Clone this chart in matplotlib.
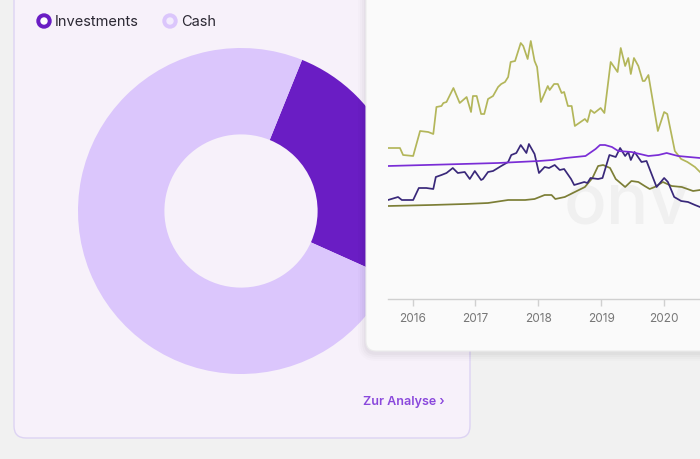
import matplotlib
matplotlib.use("Agg")
import matplotlib.pyplot as plt
from matplotlib.patches import FancyBboxPatch, Circle

plt.rcParams['font.family'] = ['Inter', 'DejaVu Sans']

# ---------------- data ----------------
pie_labels = ["Investments", "Cash"]
pie_values = [25.6, 74.4]

year_ticks = [2016, 2017, 2018, 2019, 2020]

yellow_x = [2015.61, 2015.80, 2015.85, 2016.01, 2016.12, 2016.25, 2016.33, 2016.38, 2016.46, 2016.49,
            2016.54, 2016.65, 2016.75, 2016.86, 2016.93, 2016.96, 2017.02, 2017.09, 2017.14, 2017.20,
            2017.28, 2017.36, 2017.41, 2017.47, 2017.52, 2017.56, 2017.63, 2017.72, 2017.76, 2017.83,
            2017.88, 2017.94, 2017.98, 2018.04, 2018.15, 2018.18, 2018.25, 2018.31, 2018.37, 2018.41,
            2018.47, 2018.53, 2018.58, 2018.74, 2018.78, 2018.83, 2018.89, 2018.99, 2019.05, 2019.15,
            2019.26, 2019.31, 2019.38, 2019.43, 2019.47, 2019.52, 2019.59, 2019.66, 2019.69, 2019.75,
            2019.90, 2020.00, 2020.05, 2020.17, 2020.27, 2020.37, 2020.49, 2020.57]
yellow_y = [151, 151, 144, 143, 168, 167, 165, 192, 193, 196,
            197, 211, 196, 202, 187, 203, 203, 185, 185, 200,
            203, 212, 215, 217, 222, 237, 238, 256, 253, 240,
            258, 238, 232, 197, 213, 209, 215, 215, 206, 207,
            193, 193, 173, 180, 177, 189, 186, 191, 186, 237,
            227, 251, 233, 241, 225, 241, 233, 218, 218, 224,
            168, 187, 185, 148, 140, 137, 132, 127]

purple_x = [2015.61, 2016.50, 2017.36, 2018.01, 2018.22, 2018.43, 2018.75, 2018.91, 2018.98, 2019.06,
            2019.17, 2019.27, 2019.48, 2019.75, 2019.91, 2020.04, 2020.22, 2020.57]
purple_y = [133, 134.5, 136, 138, 139, 141, 143, 150, 154, 154,
            152, 148, 147, 143, 144, 146, 143, 141]

navy_x = [2015.61, 2015.77, 2015.83, 2016.01, 2016.10, 2016.22, 2016.33, 2016.37, 2016.46, 2016.54,
          2016.64, 2016.72, 2016.83, 2016.91, 2016.99, 2017.09, 2017.12, 2017.20, 2017.28, 2017.41,
          2017.52, 2017.57, 2017.65, 2017.72, 2017.81, 2017.85, 2017.94, 2018.01, 2018.10, 2018.17,
          2018.26, 2018.34, 2018.41, 2018.52, 2018.57, 2018.73, 2018.78, 2018.83, 2018.95, 2019.02,
          2019.13, 2019.23, 2019.30, 2019.38, 2019.43, 2019.47, 2019.53, 2019.64, 2019.72, 2019.88,
          2020.00, 2020.06, 2020.16, 2020.27, 2020.38, 2020.49, 2020.57]
navy_y = [99, 102, 99, 99, 111, 111, 110, 122, 124, 126,
          131, 126, 127, 120, 128, 119, 120, 127, 128, 133,
          137, 144, 146, 154, 146, 155, 145, 126, 132, 131,
          134, 129, 130, 120, 114, 117, 116, 121, 120, 121,
          144, 142, 151, 143, 147, 139, 147, 137, 138, 112,
          121, 117, 102, 98, 97, 94, 92]

olive_x = [2015.61, 2016.30, 2016.83, 2017.20, 2017.52, 2017.79, 2017.94, 2018.10, 2018.21, 2018.27,
           2018.42, 2018.58, 2018.74, 2018.86, 2018.95, 2019.03, 2019.14, 2019.23, 2019.38, 2019.48,
           2019.59, 2019.69, 2019.77, 2019.85, 2019.98, 2020.12, 2020.28, 2020.46, 2020.57]
olive_y = [93, 94, 95, 96, 99, 99, 100, 104, 104, 100,
           102, 107, 112, 121, 133, 134, 131, 120, 112, 118,
           117, 113, 110, 112, 117, 113, 112, 108, 109]

# ---------------- styles ----------------
BG = "#f1f1f1"
CARD_L = "#f7f1fa"
CARD_L_EDGE = "#ddd3f3"
CARD_R = "#fafafa"
INV = "#6a1dc4"
CASH = "#dbc6fc"

W, H = 700, 460
fig = plt.figure(figsize=(7, 4.6), dpi=100)
fig.patch.set_facecolor(BG)

def px_axes(z):
    a = fig.add_axes([0, 0, 1, 1], zorder=z)
    a.set_xlim(0, W)
    a.set_ylim(H, 0)
    a.axis("off")
    a.patch.set_alpha(0)
    return a

# background + left card
ax_bg = px_axes(0)
left_card = FancyBboxPatch((14, -40), 456, 479, boxstyle="round,pad=0,rounding_size=12",
                           facecolor=CARD_L, edgecolor=CARD_L_EDGE, linewidth=1.0)
ax_bg.add_patch(left_card)

# legend
ax_bg.add_patch(Circle((44, 22), 7, color=INV))
ax_bg.add_patch(Circle((44, 22), 3, color="white"))
ax_bg.text(55, 22, pie_labels[0], fontsize=10.5, color="#2b2833", va="center", ha="left")
ax_bg.add_patch(Circle((170, 22), 7, color=CASH))
ax_bg.add_patch(Circle((170, 22), 3, color="#f3ecfd"))
ax_bg.text(181, 22, pie_labels[1], fontsize=10.5, color="#2b2833", va="center", ha="left")

ax_bg.text(445, 402, "Zur Analyse \u203a", fontsize=9, color="#8a48dc", va="center", ha="right",
           fontweight="semibold")

# donut
cx, cy, R = 241, 212, 163
ax_pie = fig.add_axes([(cx - R) / W, (H - cy - R) / H, 2 * R / W, 2 * R / H], zorder=1)
ax_pie.pie(pie_values, colors=[INV, CASH], startangle=68, counterclock=False,
           radius=1.0, wedgeprops=dict(width=0.53, edgecolor="none"))
ax_pie.set_aspect("equal")
ax_pie.set_xlim(-1, 1)
ax_pie.set_ylim(-1, 1)
ax_pie.axis("off")

# right card with soft shadow
ax_over = px_axes(2)
for i, a in enumerate([0.025, 0.02, 0.015, 0.01]):
    g = 2 + i * 2
    ax_over.add_patch(FancyBboxPatch((366 - g, -40), 400, 392 + g + 2,
                                     boxstyle="round,pad=0,rounding_size=%d" % (10 + g),
                                     facecolor="black", edgecolor="none", alpha=a))
right_card = FancyBboxPatch((366, -40), 400, 392, boxstyle="round,pad=0,rounding_size=10",
                            facecolor=CARD_R, edgecolor="#ececec", linewidth=0.8)
ax_over.add_patch(right_card)
wm = ax_over.text(564, 224, "onv", fontsize=51, color="#f0f0f0", va="baseline", ha="left",
                  fontweight="medium")

# line chart
ax = fig.add_axes([388 / W, (H - 300) / H, (W - 388) / W, 300 / H], zorder=3)
ax.patch.set_alpha(0)
ax.plot(yellow_x, yellow_y, color="#b3b65a", lw=1.25)
ax.plot(olive_x, olive_y, color="#7c7e36", lw=1.25)
ax.plot(navy_x, navy_y, color="#39287a", lw=1.25)
ax.plot(purple_x, purple_y, color="#7a2dd6", lw=1.25)
ax.set_xlim(2015.61, 2020.57)
ax.set_ylim(0, 300)
for s in ["top", "right", "left"]:
    ax.spines[s].set_visible(False)
ax.spines["bottom"].set_color("#d0d0d0")
ax.spines["bottom"].set_linewidth(1.0)
ax.set_yticks([])
ax.set_xticks(year_ticks)
ax.set_xticklabels([str(y) for y in year_ticks])
ax.tick_params(axis="x", length=5, width=1.0, color="#d0d0d0", labelcolor="#777777",
               labelsize=8.5, pad=4)

fig.savefig("out.png", dpi=100, facecolor=fig.get_facecolor())
